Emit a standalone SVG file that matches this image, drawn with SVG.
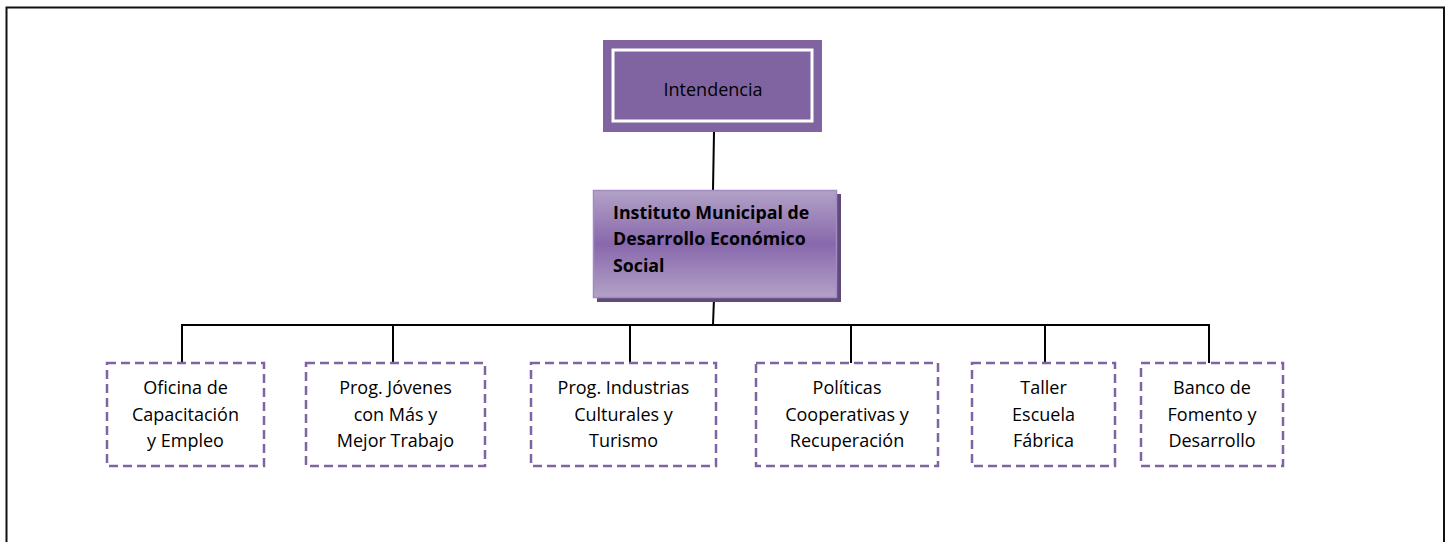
<svg xmlns="http://www.w3.org/2000/svg" width="1450" height="542" viewBox="0 0 1450 542">
<defs>
<linearGradient id="g" x1="0" y1="0" x2="0" y2="1">
<stop offset="0" stop-color="#b3a2c7"/>
<stop offset="0.5" stop-color="#8868ac"/>
<stop offset="1" stop-color="#b3a2c7"/>
</linearGradient>
<style>
.t{font-family:"Open Sans","Noto Sans",sans-serif;font-size:18px;fill:#000;text-anchor:middle}
.b{font-family:"Open Sans","Noto Sans",sans-serif;font-size:17.8px;font-weight:bold;fill:#000}
.d{fill:#fff;stroke:#8064a2;stroke-width:2.5;stroke-dasharray:9 5}
.c{stroke:#000;stroke-width:2;fill:none}
</style>
</defs>
<rect x="6.5" y="7.5" width="1437.5" height="560" fill="#fff" stroke="#111" stroke-width="2"/>
<g id="connectors">
<line class="c" x1="714" y1="132" x2="713" y2="190"/>
<line class="c" x1="714" y1="298" x2="713" y2="325"/>
<line class="c" x1="181" y1="325" x2="1210" y2="325"/>
<line class="c" x1="182" y1="325" x2="182" y2="363"/>
<line class="c" x1="393" y1="325" x2="393" y2="363"/>
<line class="c" x1="630" y1="325" x2="630" y2="363"/>
<line class="c" x1="851" y1="325" x2="851" y2="363"/>
<line class="c" x1="1045" y1="325" x2="1045" y2="363"/>
<line class="c" x1="1209" y1="325" x2="1209" y2="363"/>
</g>
<g id="intendencia">
<rect x="603" y="40" width="219" height="92" fill="#8064a2"/>
<rect x="613" y="50" width="199" height="71" fill="#8064a2" stroke="#fff" stroke-width="3"/>
<text class="t" x="713" y="96">Intendencia</text>
</g>
<g id="instituto">
<rect x="597" y="194" width="244" height="108" fill="#5f4a7a"/>
<rect x="593.5" y="190.5" width="243" height="107" fill="url(#g)" stroke="#a08cc0" stroke-width="1.5"/>
<text class="b" x="613" y="219">Instituto Municipal de</text>
<text class="b" x="613" y="245">Desarrollo Económico</text>
<text class="b" x="613" y="272">Social</text>
</g>
<g id="oficina">
<rect class="d" x="107" y="363" width="157" height="103"/>
<text class="t" x="185.5" y="394">Oficina de</text>
<text class="t" x="185.5" y="421">Capacitación</text>
<text class="t" x="185.5" y="447">y Empleo</text>
</g>
<g id="jovenes">
<rect class="d" x="306" y="363" width="179" height="103"/>
<text class="t" x="395.5" y="394">Prog. Jóvenes</text>
<text class="t" x="395.5" y="421">con Más y</text>
<text class="t" x="395.5" y="447">Mejor Trabajo</text>
</g>
<g id="industrias">
<rect class="d" x="531" y="363" width="185" height="103"/>
<text class="t" x="623.5" y="394">Prog. Industrias</text>
<text class="t" x="623.5" y="421">Culturales y</text>
<text class="t" x="623.5" y="447">Turismo</text>
</g>
<g id="politicas">
<rect class="d" x="756" y="363" width="182" height="103"/>
<text class="t" x="847" y="394">Políticas</text>
<text class="t" x="847" y="421">Cooperativas y</text>
<text class="t" x="847" y="447">Recuperación</text>
</g>
<g id="taller">
<rect class="d" x="972" y="363" width="143" height="103"/>
<text class="t" x="1043.5" y="394">Taller</text>
<text class="t" x="1043.5" y="421">Escuela</text>
<text class="t" x="1043.5" y="447">Fábrica</text>
</g>
<g id="banco">
<rect class="d" x="1141" y="363" width="142" height="103"/>
<text class="t" x="1212" y="394">Banco de</text>
<text class="t" x="1212" y="421">Fomento y</text>
<text class="t" x="1212" y="447">Desarrollo</text>
</g>
</svg>
